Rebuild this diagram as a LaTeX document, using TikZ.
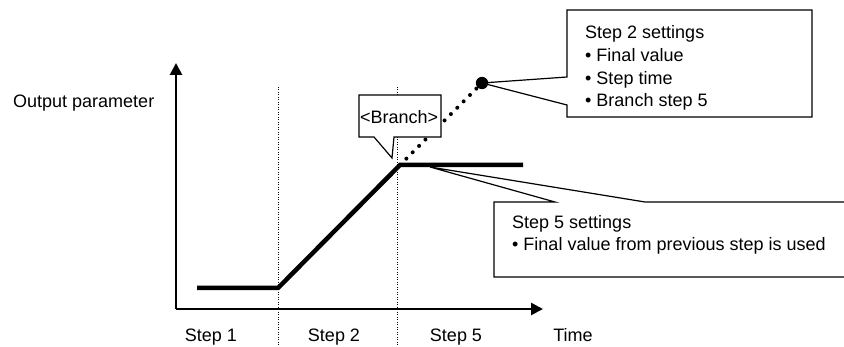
\documentclass[tikz,border=0pt]{standalone}
\usepackage{fontspec}
\setmainfont{Liberation Sans}
\usetikzlibrary{arrows.meta}
\tikzset{
  lbl/.style={inner sep=0pt, anchor=base west, font=\fontsize{18}{21}\selectfont},
  lblc/.style={inner sep=0pt, anchor=base, font=\fontsize{18}{21}\selectfont},
  axis/.style={line width=2.6pt, -{Triangle[length=12pt,width=12pt]}},
  curve/.style={line width=4.5pt, line join=miter},
  grid/.style={line width=1pt, dash pattern=on 1pt off 1.5pt},
  ball/.style={line width=4pt, line cap=round, dash pattern=on 0pt off 9pt},
  callout/.style={draw=black, fill=white, line width=1.2pt, line join=miter}
}
\begin{document}
\begin{tikzpicture}[x=1pt,y=-1pt]
\useasboundingbox (0,0) rectangle (844,347);
% coordinates
\coordinate (O) at (176,309);
\coordinate (ytip) at (176,63);
\coordinate (xtip) at (543,309);
\coordinate (c0) at (197,288);
\coordinate (c1) at (278,288);
\coordinate (c2) at (400,165);
\coordinate (c3) at (523,165);
\coordinate (g1t) at (278,87);
\coordinate (g1b) at (278,347);
\coordinate (g2t) at (397,87);
\coordinate (g2b) at (397,347);
\coordinate (B) at (482,83);
% grid lines
\draw[grid] (g1t) -- (g1b);
\draw[grid] (g2t) -- (g2b);
% axes
\draw[axis] (O) -- (ytip);
\draw[axis] (O) -- (xtip);
% curve
\draw[curve] (c0) -- (c1) -- (c2) -- (c3);
% dotted branch
\draw[ball] (c2) -- (B);
% Step 2 callout
\draw[callout] (567,10) -- (812,10) -- (812,117) -- (567,117) -- (567,105) -- (B) -- (567,77) -- cycle;
\fill (B) circle (6.2pt);
% Branch callout
\draw[callout] (359,95) -- (441,95) -- (441,137) -- (394,137) -- (392,158) -- (374,137) -- (359,137) -- cycle;
% Step 5 callout
\draw[callout] (494,202) -- (555,202) -- (430,167) -- (645,202) -- (850,202) -- (850,277) -- (494,277) -- cycle;
% texts
\node[lbl] (yl) at (13,108) {Output parameter};
\node[lblc] (s1) at (211,342) {Step 1};
\node[lblc] (s2) at (334,342) {Step 2};
\node[lblc] (s5) at (456,342) {Step 5};
\node[lblc] (tm) at (573,342) {Time};
\node[lbl] (br) at (360,124) {<Branch>};
\node[lbl] (a1) at (585,39) {Step 2 settings};
\node[lbl] (a2) at (585,62) {• Final value};
\node[lbl] (a3) at (585,84.5) {• Step time};
\node[lbl] (a4) at (585,107) {• Branch step 5};
\node[lbl] (b1) at (512,229) {Step 5 settings};
\node[lbl] (b2) at (512,251) {• Final value from previous step is used};
\end{tikzpicture}
\end{document}
